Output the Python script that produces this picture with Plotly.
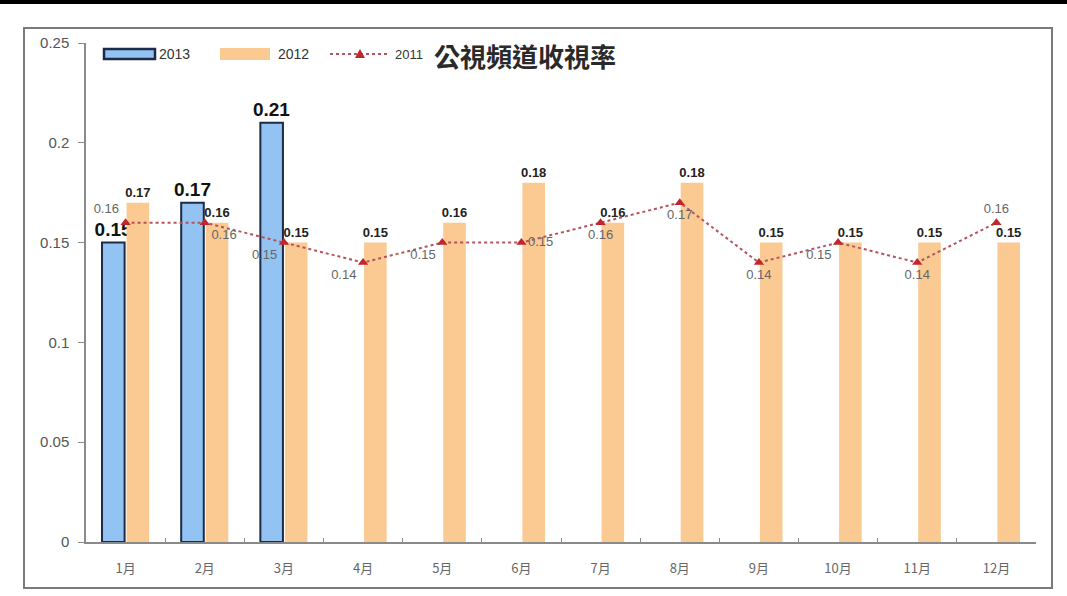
import plotly.graph_objects as go

months = ["1月", "2月", "3月", "4月", "5月", "6月", "7月", "8月", "9月", "10月", "11月", "12月"]
rating_2013 = [0.15, 0.17, 0.21]
rating_2012 = [0.17, 0.16, 0.15, 0.15, 0.16, 0.18, 0.16, 0.18, 0.15, 0.15, 0.15, 0.15]
rating_2011 = [0.16, 0.16, 0.15, 0.14, 0.15, 0.15, 0.16, 0.17, 0.14, 0.15, 0.14, 0.16]
title_text = "公視頻道收視率"

W, H = 1067, 596
L, R, T, B = 86, 31, 43, 54
PW, PH = W - L - R, H - T - B


def px(x):
    return (x - L) / PW


def py(y):
    return (H - B - y) / PH


BLUE = "#93c3f2"
BLUE_EDGE = "#1d2b47"
ORANGE = "#fbc992"
RED = "#c0262b"

fig = go.Figure()
fig.add_trace(go.Bar(
    x=months[:len(rating_2013)], y=rating_2013, name="2013",
    marker=dict(color=BLUE, line=dict(color=BLUE_EDGE, width=2)),
    texttemplate="<b>%{y:.2f}</b>", textposition="outside",
    textfont=dict(family="Liberation Sans", size=19, color="#111111"),
    constraintext="none", cliponaxis=False, showlegend=False,
))
fig.add_trace(go.Bar(
    x=months, y=rating_2012, name="2012",
    marker=dict(color=ORANGE, line=dict(width=0)),
    texttemplate="<b>%{y:.2f}</b>", textposition="outside",
    textfont=dict(family="Liberation Sans", size=13, color="#222222"),
    constraintext="none", cliponaxis=False, showlegend=False,
))
fig.add_trace(go.Scatter(
    x=months, y=rating_2011, name="2011", mode="lines+markers+text",
    line=dict(color="#b5545a", width=2, dash="dot"),
    marker=dict(symbol="triangle-up", size=9, color=RED),
    text=[f"{v:.2f}" for v in rating_2011],
    textposition=["top left", "bottom right", "bottom left", "bottom left", "bottom left",
                  "middle right", "bottom center", "bottom center", "bottom center",
                  "bottom left", "bottom center", "top center"],
    textfont=dict(family="Liberation Sans", size=13, color="#666666"),
    cliponaxis=False, showlegend=False,
))

shapes = [
    # top black band
    dict(type="rect", xref="paper", yref="paper", x0=px(0), x1=px(W), y0=py(0), y1=py(4),
         fillcolor="#000000", line=dict(width=0), layer="above"),
    # outer frame
    dict(type="rect", xref="paper", yref="paper", x0=px(24), x1=px(1052), y0=py(28), y1=py(588),
         line=dict(color="#7a7a7a", width=2), fillcolor="rgba(0,0,0,0)", layer="below"),
    # legend: 2013
    dict(type="rect", xref="paper", yref="paper", x0=px(104), x1=px(155), y0=py(49), y1=py(59),
         fillcolor=BLUE, line=dict(color=BLUE_EDGE, width=2.5)),
    # legend: 2012
    dict(type="rect", xref="paper", yref="paper", x0=px(220), x1=px(270), y0=py(48), y1=py(60),
         fillcolor=ORANGE, line=dict(width=0)),
    # legend: 2011 dotted line
    dict(type="line", xref="paper", yref="paper", x0=px(330), x1=px(390), y0=py(54), y1=py(54),
         line=dict(color="#b5545a", width=2, dash="dot")),
    # legend triangle
    dict(type="path", xref="paper", yref="paper",
         path=f"M {px(355)} {py(58)} L {px(365)} {py(58)} L {px(360)} {py(49)} Z",
         fillcolor=RED, line=dict(width=0)),
]

annotations = [
    dict(text="2013", x=px(157), y=py(54), xref="paper", yref="paper", xanchor="left", yanchor="middle",
         showarrow=False, font=dict(family="Liberation Sans", size=14, color="#333333")),
    dict(text="2012", x=px(276), y=py(54), xref="paper", yref="paper", xanchor="left", yanchor="middle",
         showarrow=False, font=dict(family="Liberation Sans", size=14, color="#333333")),
    dict(text="2011", x=px(393), y=py(54), xref="paper", yref="paper", xanchor="left", yanchor="middle",
         showarrow=False, font=dict(family="Liberation Sans", size=13, color="#333333")),
    dict(text="<b>" + title_text + "</b>", x=px(432), y=py(55), xref="paper", yref="paper",
         xanchor="left", yanchor="middle",
         showarrow=False, font=dict(family="Noto Sans CJK TC", size=26, color="#2a2a2a")),
]

fig.update_layout(
    width=W, height=H,
    margin=dict(l=L, r=R, t=T, b=B, pad=0),
    paper_bgcolor="white", plot_bgcolor="white",
    barmode="group", bargap=0.38, bargroupgap=0.08,
    shapes=shapes, annotations=annotations,
    showlegend=False,
)
fig.update_xaxes(
    type="category", range=[-0.5, len(months) - 0.5], autorange=False,
    showline=True, linecolor="#8a8a8a", linewidth=1.5,
    ticks="inside", tickson="boundaries", ticklen=4, tickcolor="#8a8a8a",
    tickfont=dict(family="Noto Sans CJK SC", size=13, color="#666666"),
    ticklabelstandoff=14,
    showgrid=False, zeroline=False,
)
fig.update_yaxes(
    range=[0, 0.25], autorange=False, dtick=0.05, tick0=0,
    showline=True, linecolor="#8a8a8a", linewidth=1.5,
    ticks="outside", ticklen=6, tickcolor="#8a8a8a",
    tickfont=dict(family="Liberation Sans", size=15, color="#555555"),
    ticklabelstandoff=6,
    showgrid=False, zeroline=False,
)

fig.write_html("out.html")
